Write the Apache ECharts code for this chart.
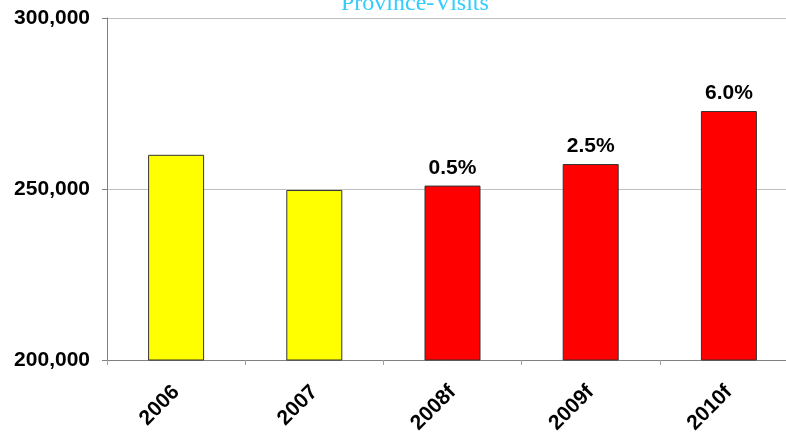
<!DOCTYPE html>
<html>
<head>
<meta charset="utf-8">
<script src="https://cdn.jsdelivr.net/npm/echarts@6/dist/echarts.min.js"></script>
<style>
html,body{margin:0;padding:0;background:#fff;}
#chart{width:786px;height:433px;}
</style>
</head>
<body>
<div id="chart"></div>
<script>
const categories = ["2006", "2007", "2008f", "2009f", "2010f"];
const visits = [260000, 249700, 251000, 257300, 272800];
const growthLabels = ["", "", "0.5%", "2.5%", "6.0%"];
const barColors = ["#ffff00", "#ffff00", "#ff0000", "#ff0000", "#ff0000"];
const yTicks = [200000, 250000, 300000];

const chart = echarts.init(document.getElementById('chart'), null, {renderer: 'canvas'});
const option = {
  animation: false,
  backgroundColor: '#ffffff',
  title: {
    text: 'Province-Visits',
    left: 341,
    top: -8,
    padding: 0,
    textStyle: {
      fontFamily: 'Liberation Serif',
      fontWeight: 'normal',
      fontSize: 24,
      color: '#33ccff'
    }
  },
  grid: {left: 107, width: 691, top: 18, bottom: 73, containLabel: false, outerBoundsMode: 'none'},
  xAxis: {
    type: 'category',
    data: categories,
    axisLine: {lineStyle: {color: '#808080', width: 1}},
    axisTick: {show: true, length: 5, lineStyle: {color: '#a0a0a0'}},
    axisLabel: {
      rotate: 45,
      margin: 29,
      color: '#000',
      fontFamily: 'Liberation Sans',
      fontWeight: 'bold',
      fontSize: 21
    },
    splitLine: {show: false}
  },
  yAxis: {
    type: 'value',
    min: yTicks[0],
    max: yTicks[yTicks.length - 1],
    interval: yTicks[1] - yTicks[0],
    axisLine: {show: true, lineStyle: {color: '#808080', width: 1}},
    axisTick: {show: true, length: 5, lineStyle: {color: '#808080'}},
    axisLabel: {
      margin: 17,
      color: '#000',
      fontFamily: 'Liberation Sans',
      fontWeight: 'bold',
      fontSize: 21,
      formatter: v => v.toLocaleString('en-US')
    },
    splitLine: {show: true, lineStyle: {color: '#c0c0c0', width: 1}}
  },
  series: [{
    type: 'bar',
    barWidth: 56,
    data: visits.map((v, i) => ({
      value: v,
      itemStyle: {color: barColors[i], borderColor: '#333333', borderWidth: 1},
      label: {
        show: growthLabels[i] !== '',
        position: 'top',
        distance: 7,
        formatter: growthLabels[i],
        color: '#000',
        fontFamily: 'Liberation Sans',
        fontWeight: 'bold',
        fontSize: 21
      }
    }))
  }]
};
chart.setOption(option);
</script>
</body>
</html>
